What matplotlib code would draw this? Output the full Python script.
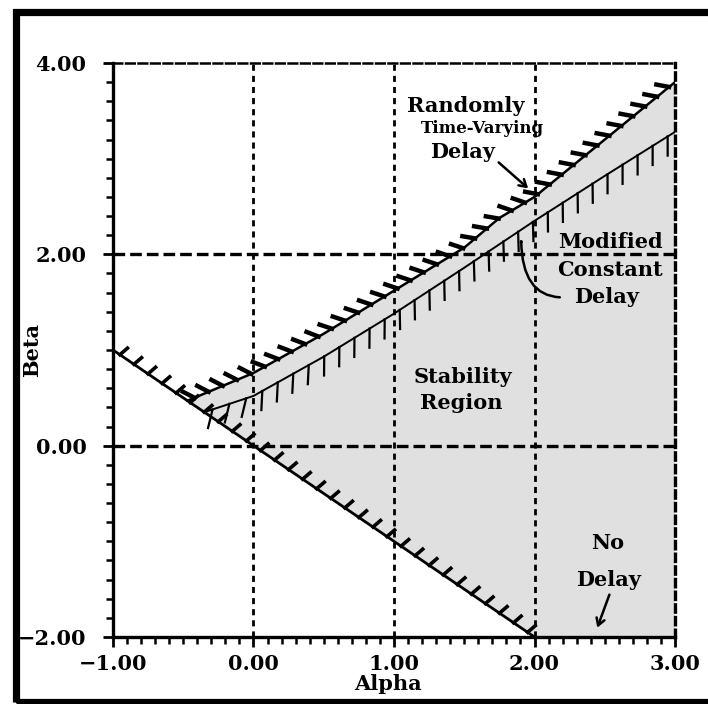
import numpy as np
import matplotlib.pyplot as plt
import matplotlib.patheffects as pe
from matplotlib.patches import Rectangle, FancyArrowPatch

plt.rcParams["font.family"] = ["DejaVu Serif"]
plt.rcParams["font.weight"] = "bold"

# boundary curves (alpha, beta)
nodelay_alpha = [-1.0, -0.47, 2.0]
nodelay_beta = [1.0, 0.47, -2.0]

random_alpha = [-0.47, 0.0, 0.5, 1.0, 1.5, 1.75, 2.0, 2.5, 3.0]
random_beta = [0.47, 0.76, 1.17, 1.62, 2.07, 2.38, 2.6, 3.2, 3.8]

modified_alpha = [-0.35, 0.0, 0.5, 1.0, 1.5, 2.0, 2.5, 3.0]
modified_beta = [0.35, 0.52, 0.93, 1.38, 1.86, 2.35, 2.82, 3.28]

x_ticks = [-1, 0, 1, 2, 3]
y_ticks = [-2, 0, 2, 4]
x_grid = [0, 1, 2]
y_grid = [0, 2]

fig = plt.figure(figsize=(7.08, 7.04), dpi=100)
ax = fig.add_axes([0.1596, 0.0952, 0.7938, 0.8153])
ax.set_xlim(-1, 3)
ax.set_ylim(-2, 4)

# stability region
fill_x = random_alpha + [3.0, 2.0]
fill_y = random_beta + [-2.0, -2.0]
ax.fill(fill_x, fill_y, color="#e0e0e0", zorder=1, lw=0)

# grid
for gx in x_grid:
    ax.axvline(gx, color="k", lw=2.0, ls=(0, (2.2, 1.8)), zorder=2)
for gy in y_grid:
    ax.axhline(gy, color="k", lw=2.4, ls=(0, (3.5, 1.5)), zorder=2)

# boundaries with hatching
ax.plot(nodelay_alpha, nodelay_beta, color="k", lw=2.0, zorder=3,
        path_effects=[pe.Normal(),
                      pe.TickedStroke(spacing=12, angle=75, length=0.6,
                                      linewidth=2.6, foreground="k")])
ax.plot(random_alpha, random_beta, color="k", lw=1.8, zorder=3,
        path_effects=[pe.Normal(),
                      pe.TickedStroke(spacing=11, angle=130, length=0.85,
                                      linewidth=3.2, foreground="k")])
ax.plot(modified_alpha, modified_beta, color="k", lw=1.4, zorder=3,
        path_effects=[pe.Normal(),
                      pe.TickedStroke(spacing=12.5, angle=-122, length=1.1,
                                      linewidth=1.6, foreground="k")])

# axes styling
ax.spines["left"].set_linewidth(2.4)
ax.spines["bottom"].set_linewidth(2.4)
ax.spines["top"].set_linewidth(1.8)
ax.spines["top"].set_linestyle((0, (3.5, 1.5)))
ax.spines["right"].set_linewidth(2.4)
ax.spines["right"].set_linestyle((0, (2.2, 1.6)))

ax.set_xticks(x_ticks)
ax.set_yticks(y_ticks)
ax.set_xticks(np.arange(-1, 3.001, 0.1), minor=True)
ax.set_yticks(np.arange(-2, 4.001, 0.2), minor=True)
ax.set_xticklabels([f"{v:.2f}".replace("-", "\u2212") for v in x_ticks])
ax.set_yticklabels([f"{v:.2f}".replace("-", "\u2212") for v in y_ticks])
ax.tick_params(which="major", direction="out", length=7, width=2, labelsize=15)
ax.tick_params(which="minor", direction="out", length=5, width=1.8)
ax.tick_params(axis="x", which="major", pad=5)
ax.tick_params(axis="y", which="major", pad=12)

ax.set_xlabel("Alpha", fontsize=15, fontweight="bold")
ax.xaxis.set_label_coords(0.49, -0.064)
ax.set_ylabel("Beta", fontsize=15, fontweight="bold")
ax.yaxis.set_label_coords(-0.126, 0.5)

# annotations
tk = dict(ha="center", va="center", fontweight="bold", zorder=5)
ax.text(1.51, 3.55, "Randomly", fontsize=15, **tk)
ax.text(1.63, 3.32, "Time-Varying", fontsize=12, **tk)
ax.text(1.49, 3.07, "Delay", fontsize=15, **tk)
ax.annotate("", xy=(1.97, 2.67), xytext=(1.73, 2.98),
            arrowprops=dict(arrowstyle="->,head_length=0.5,head_width=0.3", lw=1.8, color="k"))

ax.text(2.54, 2.13, "Modified", fontsize=15, **tk)
ax.text(2.54, 1.84, "Constant", fontsize=15, **tk)
ax.text(2.51, 1.55, "Delay", fontsize=15, **tk)
ax.add_patch(FancyArrowPatch((2.20, 1.55), (1.905, 2.19),
                             connectionstyle="angle3,angleA=0,angleB=90",
                             arrowstyle="->,head_length=0.5,head_width=0.3",
                             lw=1.8, color="k", zorder=5))

ax.text(1.49, 0.72, "Stability", fontsize=15, **tk)
ax.text(1.48, 0.45, "Region", fontsize=15, **tk)

ax.text(2.52, -1.02, "No", fontsize=15, **tk)
ax.text(2.53, -1.40, "Delay", fontsize=15, **tk)
ax.annotate("", xy=(2.44, -1.93), xytext=(2.54, -1.53),
            arrowprops=dict(arrowstyle="->,head_length=0.5,head_width=0.3", lw=1.8, color="k"))

# black frame around the figure
fig.patches.append(Rectangle((0.0219, 0.003), 1.2, 0.980, transform=fig.transFigure,
                             fill=False, lw=5.2, edgecolor="k", clip_on=False))

fig.savefig("out.png", dpi=100)
